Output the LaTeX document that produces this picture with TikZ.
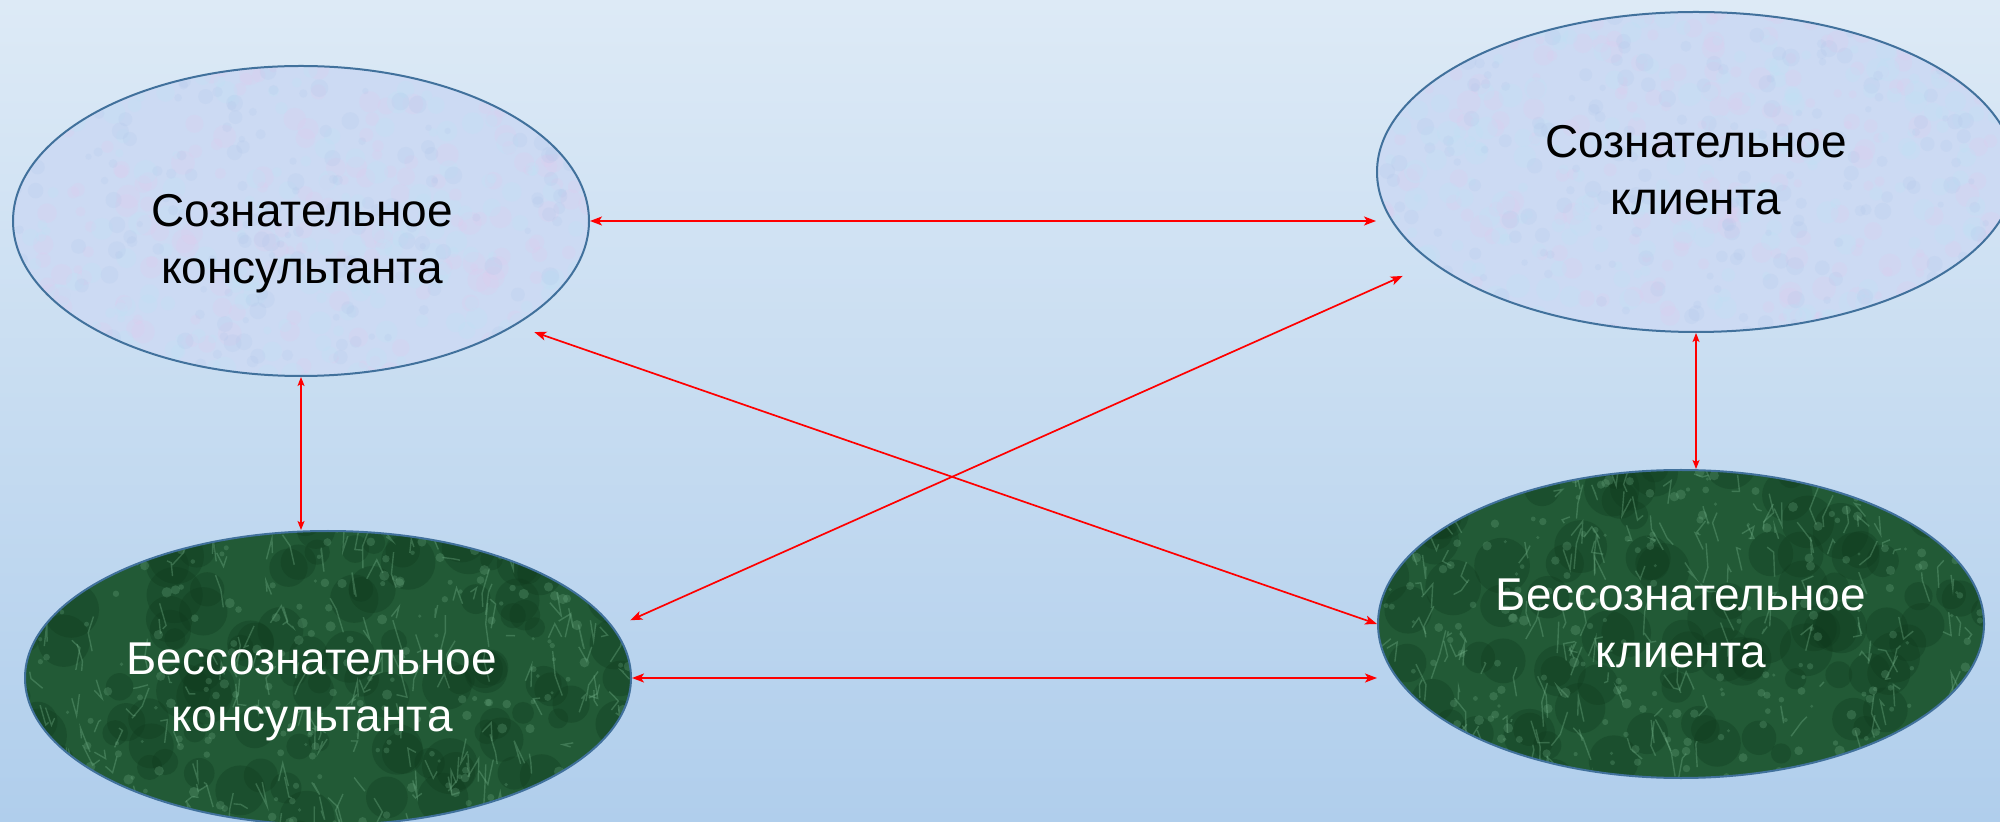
\documentclass[tikz,border=0pt]{standalone}
\usepackage{fontspec}
\setmainfont{Liberation Sans}
\usetikzlibrary{shapes.geometric,arrows.meta,calc}
\definecolor{bgtop}{RGB}{221,234,246}
\definecolor{bgbot}{RGB}{176,206,236}
\definecolor{edgeblue}{RGB}{65,113,156}
\definecolor{lightfill}{RGB}{204,218,243}
\definecolor{lpink}{RGB}{226,202,238}
\definecolor{lcyan}{RGB}{192,226,246}
\definecolor{lblue}{RGB}{176,198,234}
\definecolor{gbase}{RGB}{34,90,54}
\definecolor{gdark}{RGB}{14,56,28}
\definecolor{glight}{RGB}{118,180,140}
\definecolor{arrowred}{RGB}{255,0,0}
\tikzset{
  lighttex/.style={path picture={
    \foreach \k in {1,...,220}{\fill[lpink,opacity=.22] ($(path picture bounding box.center)+(640*rnd-320,330*rnd-165)$) circle ({2pt+4pt*rnd});}
    \foreach \k in {1,...,220}{\fill[lcyan,opacity=.25] ($(path picture bounding box.center)+(640*rnd-320,330*rnd-165)$) circle ({2pt+4pt*rnd});}
    \foreach \k in {1,...,220}{\fill[lblue,opacity=.2] ($(path picture bounding box.center)+(640*rnd-320,330*rnd-165)$) circle ({1.5pt+3pt*rnd});}
  }},
  greentex/.style={path picture={
    \foreach \k in {1,...,120}{\fill[gdark,opacity=.3] ($(path picture bounding box.center)+(640*rnd-320,330*rnd-165)$) circle ({5pt+9pt*rnd});}
    \foreach \k in {1,...,220}{\draw[glight,opacity=.35,line width=.7pt] ($(path picture bounding box.center)+(640*rnd-320,330*rnd-165)$) -- ++(16*rnd-8,50*rnd-25) -- ++(24*rnd-12,50*rnd-25);}
    \foreach \k in {1,...,260}{\fill[glight,opacity=.25] ($(path picture bounding box.center)+(640*rnd-320,330*rnd-165)$) circle ({.8pt+1.8pt*rnd});}
  }},
  ell/.style={ellipse, draw=edgeblue, line width=1pt, inner sep=0pt},
  lightell/.style={ell, fill=lightfill, lighttex},
  greenell/.style={ell, fill=gbase, greentex},
  lbl/.style={align=center, font=\fontsize{23}{28.5}\selectfont, inner sep=0pt},
  conn/.style={draw=arrowred, line width=.85pt, {Stealth[length=6pt,width=4.5pt,inset=1.5pt]}-{Stealth[length=6pt,width=4.5pt,inset=1.5pt]}},
  vconn/.style={draw=arrowred, line width=.55pt, {Stealth[length=4.5pt,width=3.5pt,inset=1pt]}-{Stealth[length=4.5pt,width=3.5pt,inset=1pt]}}
}
\begin{document}
\begin{tikzpicture}[x=0.5pt,y=-0.5pt]
\pgfmathsetseed{7}
\useasboundingbox (0,0) rectangle (2000,822);
\shade[top color=bgtop, bottom color=bgbot] (0,0) rectangle (2000,822);
\node[lightell, minimum width=288pt, minimum height=155pt] (A) at (301,221) {};
\node[lightell, minimum width=319pt, minimum height=160pt] (B) at (1696,172) {};
\node[greenell, minimum width=303pt, minimum height=147pt] (C) at (328,678) {};
\node[greenell, minimum width=303pt, minimum height=154pt] (D) at (1681,624) {};
\node[lbl] (tA) at (302,243.5) {Сознательное\\консультанта};
\node[lbl] (tB) at (1696,170) {Сознательное\\клиента};
\node[lbl, text=white] (tC) at (312,692) {Бессознательное\\консультанта};
\node[lbl, text=white] (tD) at (1681,623) {Бессознательное\\клиента};
\draw[conn] (A.east) -- (A.east -| B.west);
\draw[conn] (C.east) -- (C.east -| D.west);
\draw[vconn] (A.south) -- (A.south |- C.north);
\draw[vconn] (B.south) -- (B.south |- D.north);
\draw[conn, shorten <=10pt] (A.-26) -- (D.west);
\draw[conn, shorten <=9pt, shorten >=16pt] (C.10) -- (B.199);
\end{tikzpicture}
\end{document}
